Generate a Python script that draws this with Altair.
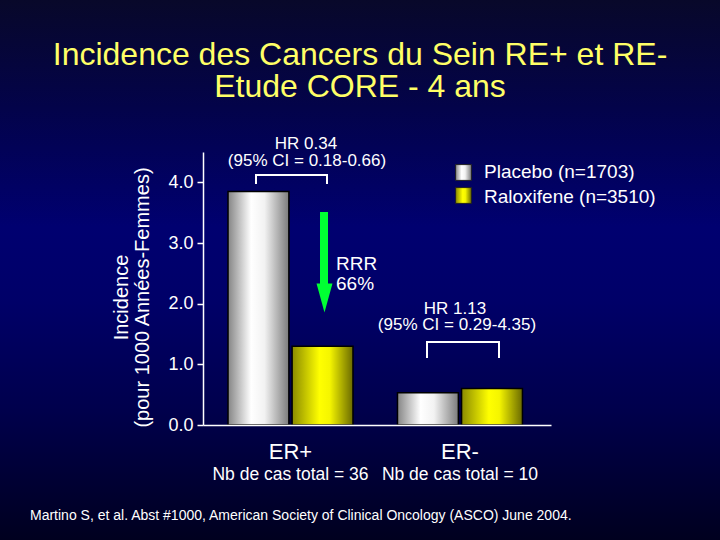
import altair as alt
import pandas as pd

# ---------------- data ----------------
groups = ["ER+", "ER-"]
series = ["Placebo (n=1703)", "Raloxifene (n=3510)"]
placebo = [3.85, 0.53]
raloxifene = [1.30, 0.60]
cases = ["Nb de cas total = 36", "Nb de cas total = 10"]
y_ticks = [0, 1, 2, 3, 4]

title_lines = ["Incidence des Cancers du Sein RE+ et RE-", "Etude CORE - 4 ans"]
y_title = ["Incidence", "(pour 1000 Années-Femmes)"]
hr_pos = ["HR 0.34", "(95% CI = 0.18-0.66)"]
hr_neg = ["HR 1.13", "(95% CI = 0.29-4.35)"]
rrr = ["RRR", "66%"]
footnote = "Martino S, et al. Abst #1000, American Society of Clinical Oncology (ASCO) June 2004."

FONT = "Liberation Sans"

rows = []
for g, p, r in zip(groups, placebo, raloxifene):
    rows.append({"group": g, "series": series[0], "value": p})
    rows.append({"group": g, "series": series[1], "value": r})
bars_df = pd.DataFrame(rows)
labels_df = pd.DataFrame({"group": groups, "cases": cases})

# ---------------- styles ----------------
def hgrad(stops):
    return alt.LinearGradient(
        gradient="linear", x1=0, x2=1, y1=0, y2=0,
        stops=[alt.GradientStop(offset=o, color=c) for o, c in stops],
    )

silver = hgrad([(0, "#858585"), (0.38, "#ffffff"), (0.6, "#f2f2f2"), (1, "#7c7c7c")])
yellow = hgrad([(0, "#8a8a00"), (0.45, "#ffff00"), (0.62, "#f5f500"), (1, "#6a6a00")])
bg_grad = alt.LinearGradient(
    gradient="linear", x1=0, x2=0, y1=0, y2=1,
    stops=[alt.GradientStop(offset=o, color=c) for o, c in [
        (0, "#08082a"), (0.2, "#03034a"), (0.42, "#000070"),
        (0.56, "#000068"), (0.76, "#00004c"), (1, "#00001f")]],
)

OX, OY = 203, 152   # plot origin inside the 720x540 canvas
W, H = 348, 273

x_scale = alt.Scale(domain=groups, paddingInner=0.2625, paddingOuter=0.158, align=0.467)
x_axis = alt.Axis(labels=False, ticks=False, tickSize=0, title=None, domainColor="white",
                  domainWidth=1.5, grid=False, zindex=1)
y_scale = alt.Scale(domain=[0, 4.5], nice=False)
y_axis = alt.Axis(values=y_ticks, format=".1f", labelFont=FONT, labelFontSize=18,
                  labelColor="white", tickColor="white", tickSize=6, tickWidth=1.5,
                  domainColor="white", domainWidth=1.5, labelPadding=4, grid=False,
                  title=y_title, titleFont=FONT, titleFontSize=20, titleFontWeight="normal",
                  titleColor="white", titlePadding=15, titleLineHeight=21, titleY=145, zindex=1)
xoff = alt.XOffset("series:N", scale=alt.Scale(domain=series, paddingInner=0.05))

one = pd.DataFrame({"k": [0]})


def text_layer(txt, x, y, size, color="white", align="center"):
    return alt.Chart(pd.DataFrame({"t": [txt]})).mark_text(
        font=FONT, fontSize=size, color=color, align=align, baseline="alphabetic"
    ).encode(text="t:N", x=alt.value(x - OX), y=alt.value(y - OY))


def rule(x1, y1, x2, y2, color="white", width=2):
    return alt.Chart(one).mark_rule(color=color, strokeWidth=width, strokeCap="square").encode(
        x=alt.value(x1 - OX), x2=alt.value(x2 - OX), y=alt.value(y1 - OY), y2=alt.value(y2 - OY)
    )


background = alt.Chart(one).mark_rect(fill=bg_grad).encode(
    x=alt.value(-OX), x2=alt.value(720 - OX), y=alt.value(-OY), y2=alt.value(540 - OY)
)

def bar_layer(name, grad):
    return alt.Chart(bars_df).transform_filter(alt.datum.series == name).mark_bar(
        fill=grad, stroke="black", strokeWidth=1.5
    ).encode(
        x=alt.X("group:N", scale=x_scale, axis=x_axis),
        xOffset=xoff,
        y=alt.Y("value:Q", scale=y_scale, axis=y_axis),
    )

bars_p = bar_layer(series[0], silver)
bars_r = bar_layer(series[1], yellow)

er_labels = alt.Chart(labels_df).mark_text(
    font=FONT, fontSize=22, color="white", baseline="alphabetic"
).encode(x=alt.X("group:N", scale=x_scale, axis=x_axis), text="group:N", y=alt.value(459 - OY))

case_labels = alt.Chart(labels_df).mark_text(
    font=FONT, fontSize=17.5, color="white", baseline="alphabetic"
).encode(x=alt.X("group:N", scale=x_scale, axis=x_axis), text="cases:N", y=alt.value(480 - OY))

# green arrow
shaft = alt.Chart(one).mark_rule(color="#00ff33", strokeWidth=8, strokeCap="butt").encode(
    x=alt.value(324 - OX), y=alt.value(212 - OY), y2=alt.value(288 - OY)
)
head = alt.Chart(one).mark_point(
    shape="M-0.55,-1L0.55,-1L0,1Z", filled=True, fill="#00ff33", opacity=1, size=841, strokeWidth=0
).encode(x=alt.value(324.5 - OX), y=alt.value(298 - OY))

# brackets
brackets = [
    rule(256, 175, 327, 175), rule(256, 175, 256, 183), rule(327, 175, 327, 183),
    rule(427, 342, 499, 342), rule(427, 342, 427, 357), rule(499, 342, 499, 357),
]

# legend (manual)
leg_sq = [
    alt.Chart(one).mark_square(fill=silver, stroke="#222222", strokeWidth=1, size=250, opacity=1).encode(
        x=alt.value(463.5 - OX), y=alt.value(172.5 - OY)),
    alt.Chart(one).mark_square(fill=yellow, stroke="#222222", strokeWidth=1, size=250, opacity=1).encode(
        x=alt.value(463.5 - OX), y=alt.value(195.5 - OY)),
]
leg_txt = [
    text_layer(series[0], 484, 178, 19, align="left"),
    text_layer(series[1], 484, 203, 19, align="left"),
]

texts = [
    text_layer(title_lines[0], 360, 65, 32, color="#ffff66"),
    text_layer(title_lines[1], 360, 97, 32, color="#ffff66"),
    text_layer(hr_pos[0], 306, 149, 17),
    text_layer(hr_pos[1], 307, 166, 17),
    text_layer(rrr[0], 336, 270, 19, align="left"),
    text_layer(rrr[1], 336, 290, 19, align="left"),
    text_layer(hr_neg[0], 455, 314, 17),
    text_layer(hr_neg[1], 457, 330, 17),
    text_layer(footnote, 30, 520, 14, align="left"),
]

chart = alt.layer(
    background, bars_p, bars_r, er_labels, case_labels, shaft, head,
    *brackets, *leg_sq, *leg_txt, *texts
).properties(
    width=W, height=H,
    padding={"left": OX, "top": OY, "right": 720 - OX - W, "bottom": 540 - OY - H},
    autosize=alt.AutoSizeParams(type="none"),
    background="#000044",
).configure_view(stroke=None)

chart.save("out.html", embed_options={"renderer": "svg", "actions": False})
